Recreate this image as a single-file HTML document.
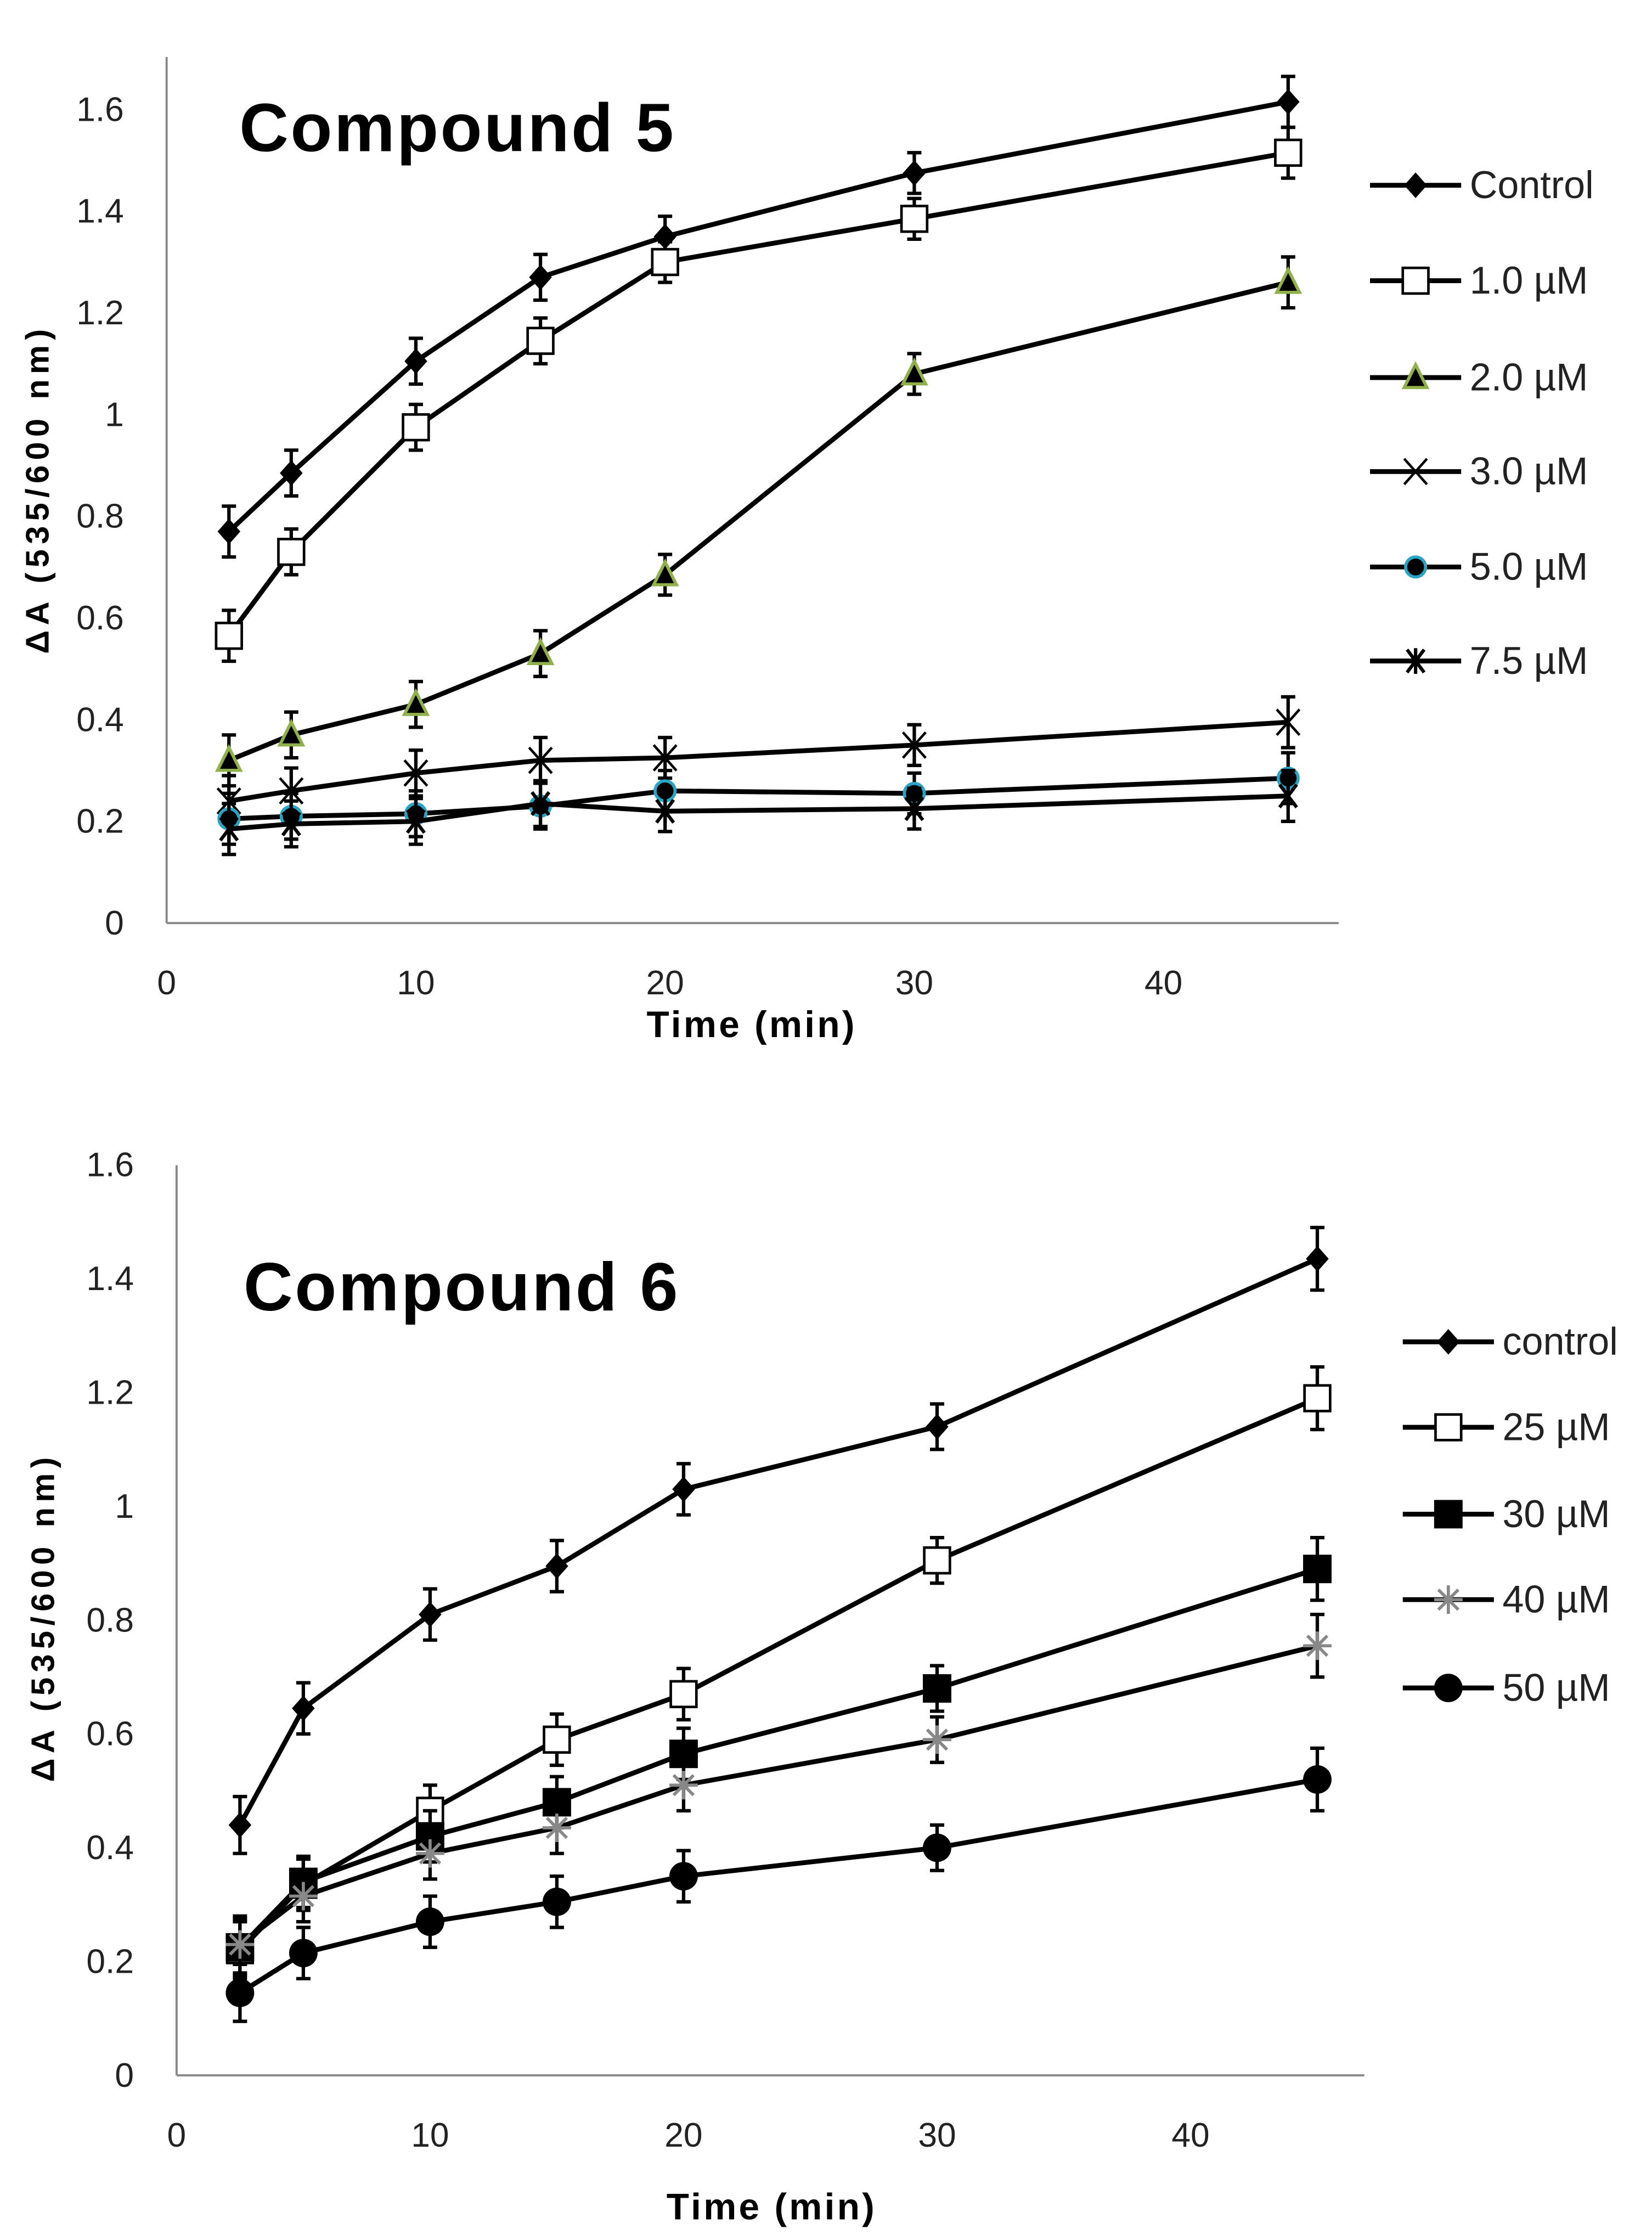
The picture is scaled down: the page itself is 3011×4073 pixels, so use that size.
<!DOCTYPE html>
<html><head><meta charset="utf-8"><style>
html,body{margin:0;padding:0;background:#fff;}
svg{display:block;}
text{font-family:"Liberation Sans",sans-serif;}
</style></head><body>
<svg id="svg" width="3011" height="4073" viewBox="0 0 1160 1569" xmlns="http://www.w3.org/2000/svg"></svg>
<script>
const times = [2.5,5,10,15,20,30,45];
const c5Names = ['Control','1.0 µM','2.0 µM','3.0 µM','5.0 µM','7.5 µM'];
const c5Markers = ['diamond','square','triangle','x','circle','star'];
const c5Control = [0.77,0.885,1.105,1.27,1.35,1.475,1.615];
const c5S1 = [0.565,0.73,0.975,1.145,1.3,1.385,1.515];
const c5S2 = [0.32,0.37,0.43,0.53,0.685,1.08,1.26];
const c5S3 = [0.24,0.26,0.295,0.32,0.325,0.35,0.395];
const c5S5 = [0.205,0.21,0.215,0.23,0.26,0.255,0.285];
const c5S75 = [0.185,0.195,0.2,0.235,0.22,0.225,0.25];
const c5Err = [0.05,0.045,0.045,0.045,0.04,0.04,0.05];
const c6Names = ['control','25 µM','30 µM','40 µM','50 µM'];
const c6Markers = ['diamond','square','fsquare','star6','fcircle'];
const c6Control = [0.44,0.645,0.81,0.895,1.03,1.14,1.435];
const c6S25 = [0.22,0.335,0.465,0.59,0.67,0.905,1.19];
const c6S30 = [0.225,0.34,0.42,0.48,0.565,0.68,0.89];
const c6S40 = [0.23,0.315,0.39,0.435,0.51,0.59,0.755];
const c6S50 = [0.145,0.215,0.27,0.305,0.35,0.40,0.52];
const c6Err = [0.05,0.045,0.045,0.045,0.045,0.04,0.055];
const yTicks = [0,0.2,0.4,0.6,0.8,1,1.2,1.4,1.6];
const xTicks = [0,10,20,30,40];

const svg=document.getElementById('svg');
const NS='http://www.w3.org/2000/svg';
function el(tag,attrs,parent){const e=document.createElementNS(NS,tag);for(const k in attrs)e.setAttribute(k,attrs[k]);(parent||svg).appendChild(e);return e;}

function marker(g,type,x,y){
  let m;
  if(type==='diamond'){m=el('polygon',{points:`${x},${y-9} ${x+8},${y} ${x},${y+9} ${x-8},${y}`,fill:'#000'},g);}
  else if(type==='square'){m=el('rect',{x:x-9,y:y-9,width:18,height:18,fill:'#fff',stroke:'#000','stroke-width':1.8},g);}
  else if(type==='fsquare'){m=el('rect',{x:x-10,y:y-10,width:20,height:20,fill:'#000'},g);}
  else if(type==='triangle'){m=el('polygon',{points:`${x},${y-9} ${x+8},${y+7} ${x-8},${y+7}`,fill:'#000',stroke:'#8fb04a','stroke-width':2.2},g);}
  else if(type==='circle'){m=el('circle',{cx:x,cy:y,r:7,fill:'#000',stroke:'#2aa3c4','stroke-width':2.2},g);}
  else if(type==='fcircle'){m=el('circle',{cx:x,cy:y,r:10,fill:'#000'},g);}
  else if(type==='x'){m=el('path',{d:`M${x-8},${y-9}L${x+8},${y+9}M${x+8},${y-9}L${x-8},${y+9}`,stroke:'#000','stroke-width':1.8,fill:'none'},g);}
  else if(type==='star'){m=el('path',{d:`M${x-6},${y-8}L${x+6},${y+8}M${x+6},${y-8}L${x-6},${y+8}M${x},${y-9}L${x},${y+9}`,stroke:'#000','stroke-width':2.4,fill:'none'},g);}
  else if(type==='star6'){m=el('path',{d:`M${x-7},${y-7}L${x+7},${y+7}M${x+7},${y-7}L${x-7},${y+7}M${x},${y-10}L${x},${y+10}M${x-10},${y}L${x+10},${y}`,stroke:'#888','stroke-width':2.2,fill:'none'},g);}
  
  
}

function chart(cfg){
  const {x0,x1,xs,y0,ys,top,prefix}=cfg;
  const X=v=>x0+v*xs, Y=v=>y0-v*ys;
  const g=el('g',{});
  
  
  const ya=el('line',{x1:x0,y1:top,x2:x0,y2:y0,stroke:'#888','stroke-width':1.5},g);
  
  
  const xa=el('line',{x1:x0,y1:y0,x2:x1,y2:y0,stroke:'#888','stroke-width':1.5},g);
  
  
  yTicks.forEach(t=>{const tx=el('text',{x:x0-30,y:Y(t)+8,'text-anchor':'end','font-size':24,fill:'#222'},g);tx.textContent=String(t);
    
    });
  xTicks.forEach(t=>{const tx=el('text',{x:X(t),y:y0+50,'text-anchor':'middle','font-size':24,fill:'#222'},g);tx.textContent=String(t);
    
    });
  const xt=el('text',{x:cfg.xtX,y:cfg.xtY,'text-anchor':'middle','font-size':26,'font-weight':'bold',textLength:146},g);xt.textContent='Time (min)';
  
  
  const yt=el('text',{x:0,y:0,'text-anchor':'middle','font-size':23,'font-weight':'bold',textLength:228,transform:`translate(${cfg.ytX},${cfg.ytY}) rotate(-90)`},g);yt.textContent='ΔA (535/600 nm)';
  
  
  const ti=el('text',{x:cfg.tX,y:cfg.tY,'font-size':48,'font-weight':'bold',textLength:305},g);ti.textContent=cfg.title;
  
  
  cfg.series.forEach((vals,si)=>{
    const sg=el('g',{},g);
    
    
    const pts=vals.map((v,i)=>`${X(times[i])},${Y(v)}`).join(' ');
    const pl=el('polyline',{points:pts,fill:'none',stroke:'#000','stroke-width':3.4},sg);
    
    
    vals.forEach((v,i)=>{
      const e=cfg.err[i],x=X(times[i]);
      const eb=el('path',{d:`M${x},${Y(v+e)}L${x},${Y(v-e)}M${x-5},${Y(v+e)}L${x+5},${Y(v+e)}M${x-5},${Y(v-e)}L${x+5},${Y(v-e)}`,stroke:'#000','stroke-width':2.4,fill:'none'},sg);
      
      
      marker(sg,cfg.markers[si],x,Y(v));
    });
    const ly=cfg.legY[si];
    const lg=el('g',{},g);
    
    
    el('line',{x1:cfg.legX,y1:ly,x2:cfg.legX+64,y2:ly,stroke:'#000','stroke-width':3.4},lg);
    marker(lg,cfg.markers[si],cfg.legX+32,ly);
    const lt=el('text',{x:cfg.legX+70,y:ly+9,'font-size':27,fill:'#222'},lg);lt.textContent=cfg.names[si];
  });
}

chart({prefix:'compound5',x0:117,x1:940,xs:17.5,y0:648,ys:357,top:40,
  xtX:527,xtY:728,ytX:34,ytY:345,tX:168,tY:106,title:'Compound 5',
  series:[c5Control,c5S1,c5S2,c5S3,c5S5,c5S75],names:c5Names,markers:c5Markers,err:c5Err,
  legX:962,legY:[130,197,265,331,398,464]});
chart({prefix:'compound6',x0:124,x1:958,xs:17.8,y0:1457,ys:399.5,top:818,
  xtX:541,xtY:1558,ytX:38,ytY:1137,tX:171,tY:920,title:'Compound 6',
  series:[c6Control,c6S25,c6S30,c6S40,c6S50],names:c6Names,markers:c6Markers,err:c6Err,
  legX:985,legY:[942,1002,1063,1123,1185]});
</script>
</body></html>
